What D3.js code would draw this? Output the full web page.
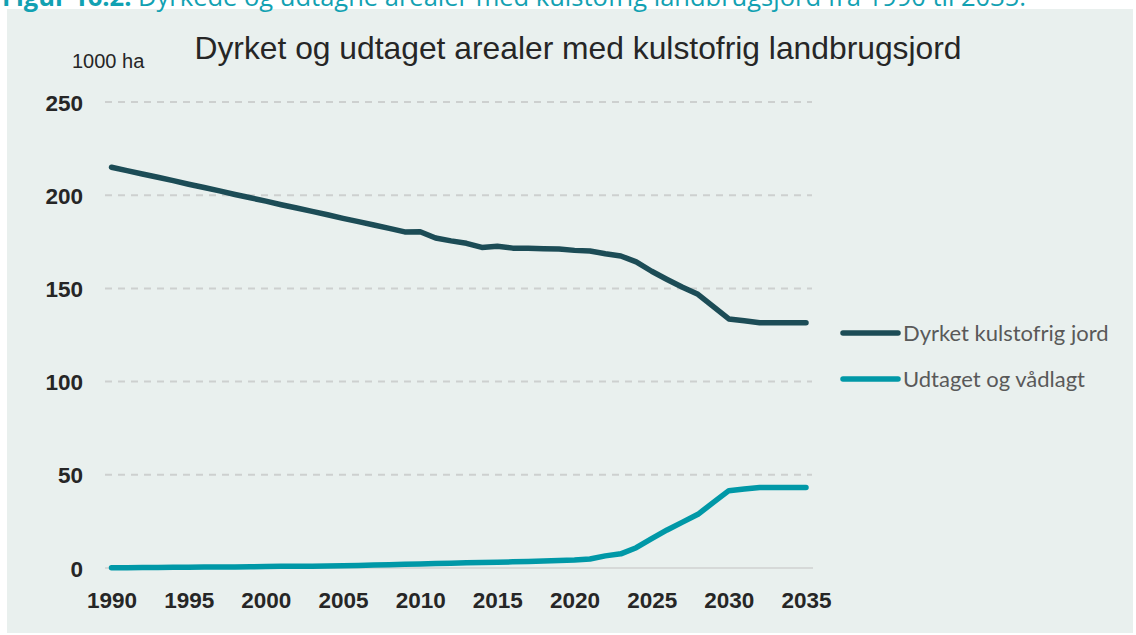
<!DOCTYPE html>
<html>
<head>
<meta charset="utf-8">
<script src="https://cdn.jsdelivr.net/npm/d3@7"></script>
<style>
  body { margin: 0; background: #fff; }
  svg { display: block; }
</style>
</head>
<body>
<svg></svg>
<script>
let svgWidth = 1136;
let svgHeight = 635;

// data (1000 ha)
let years = d3.range(1990, 2036);
let dyrket = [215.0, 213.2, 211.4, 209.6, 207.8, 205.9, 204.1, 202.3, 200.4, 198.6,
              196.8, 194.9, 193.1, 191.3, 189.5, 187.6, 185.8, 184.0, 182.2, 180.3,
              180.4, 177.0, 175.5, 174.2, 172.0, 172.6, 171.6, 171.5, 171.3, 171.1,
              170.4, 170.1, 168.6, 167.4, 164.2, 159.2, 154.8, 150.6, 146.8, 140.2,
              133.6, 132.6, 131.6, 131.6, 131.6, 131.6];
let udtaget = [0.2, 0.2, 0.3, 0.3, 0.4, 0.4, 0.5, 0.5, 0.6, 0.7,
               0.8, 0.9, 1.0, 1.0, 1.1, 1.2, 1.4, 1.6, 1.8, 2.0,
               2.2, 2.4, 2.6, 2.8, 3.0, 3.1, 3.3, 3.5, 3.7, 4.0,
               4.3, 4.8, 6.5, 7.6, 10.9, 15.7, 20.4, 24.6, 28.8, 35.2,
               41.5, 42.4, 43.2, 43.2, 43.2, 43.2];
let xTicks = [1990, 1995, 2000, 2005, 2010, 2015, 2020, 2025, 2030, 2035];
let yTicks = [0, 50, 100, 150, 200, 250];
let seriesNames = ["Dyrket kulstofrig jord", "Udtaget og vådlagt"];
let seriesColors = ["#1c4c56", "#0098a7"];

let series = [dyrket, udtaget].map((vals, i) => ({
  name: seriesNames[i],
  color: seriesColors[i],
  values: years.map((y, j) => ({ year: y, value: vals[j] }))
}));

var svg = d3.select("svg")
  .attr("width", svgWidth)
  .attr("height", svgHeight);

// panel background
svg.append("rect")
  .attr("x", 7)
  .attr("y", 9)
  .attr("width", 1126)
  .attr("height", 624)
  .attr("fill", "#e9f0ee");

// caption, cut off at the top like in the source
svg.append("text")
  .attr("x", 2)
  .attr("y", 5.5)
  .attr("font-family", "Open Sans, sans-serif")
  .attr("font-size", 25.5)
  .attr("fill", "#12a1b2")
  .call(t => {
    t.append("tspan").attr("font-weight", "bold").text("Figur 16.2. ");
    t.append("tspan").text("Dyrkede og udtagne arealer med kulstofrig landbrugsjord fra 1990 til 2035.");
  });

let xScale = d3.scaleLinear()
  .domain([1990, 2035])
  .range([111.5, 806]);
let yScale = d3.scaleLinear()
  .domain([0, 250])
  .range([568, 102]);

// gridlines
svg.append("g")
  .selectAll("line")
  .data(yTicks.filter(d => d > 0))
  .enter()
  .append("line")
    .attr("x1", 105)
    .attr("x2", 812)
    .attr("y1", d => yScale(d))
    .attr("y2", d => yScale(d))
    .attr("stroke", "#cdd0cf")
    .attr("stroke-width", 2)
    .attr("stroke-dasharray", "7,6");

// zero line
svg.append("line")
  .attr("x1", 105)
  .attr("x2", 813)
  .attr("y1", yScale(0))
  .attr("y2", yScale(0))
  .attr("stroke", "#d6d9d8")
  .attr("stroke-width", 2);

// axes
let yAxis = d3.axisLeft(yScale)
  .tickValues(yTicks)
  .tickSize(0)
  .tickPadding(0);
let xAxis = d3.axisBottom(xScale)
  .tickValues(xTicks)
  .tickFormat(d3.format("d"))
  .tickSize(0)
  .tickPadding(0);

svg.append("g")
  .attr("transform", "translate(83, 0)")
  .call(yAxis)
  .call(g => g.select(".domain").remove())
  .selectAll("text")
    .attr("font-family", "Liberation Sans, Arial, sans-serif")
    .attr("font-size", 22.5)
    .attr("font-weight", "bold")
    .attr("fill", "#262626")
    .attr("dy", "0.36em");

svg.append("g")
  .attr("transform", "translate(0, 592)")
  .call(xAxis)
  .call(g => g.select(".domain").remove())
  .selectAll("text")
    .attr("font-family", "Liberation Sans, Arial, sans-serif")
    .attr("font-size", 22.5)
    .attr("font-weight", "bold")
    .attr("fill", "#262626")
    .attr("dy", "0.72em");

// lines
let line = d3.line()
  .x(d => xScale(d.year))
  .y(d => yScale(d.value));

svg.append("g")
  .selectAll("path")
  .data(series)
  .enter()
  .append("path")
    .attr("d", d => line(d.values))
    .attr("fill", "none")
    .attr("stroke", d => d.color)
    .attr("stroke-width", 5.5)
    .attr("stroke-linejoin", "round")
    .attr("stroke-linecap", "round");

// title
svg.append("text")
  .text("Dyrket og udtaget arealer med kulstofrig landbrugsjord")
  .attr("x", 578)
  .attr("y", 59)
  .attr("font-family", "Liberation Sans, Arial, sans-serif")
  .attr("font-size", 31.8)
  .attr("fill", "#262626")
  .attr("text-anchor", "middle");

// unit label
svg.append("text")
  .text("1000 ha")
  .attr("x", 72)
  .attr("y", 68)
  .attr("font-family", "Liberation Sans, Arial, sans-serif")
  .attr("font-size", 20)
  .attr("fill", "#262626");

// legend
let legend = svg.append("g")
  .selectAll("g")
  .data(series)
  .enter()
  .append("g")
    .attr("transform", (d, i) => `translate(843, ${333 + i * 46})`);

legend.append("line")
  .attr("x1", 0)
  .attr("x2", 55)
  .attr("stroke", d => d.color)
  .attr("stroke-width", 5.5)
  .attr("stroke-linecap", "round");

legend.append("text")
  .text(d => d.name)
  .attr("x", 60)
  .attr("dy", "0.35em")
  .attr("font-family", "Lato, sans-serif")
  .attr("font-size", 22)
  .attr("fill", "#595959");
</script>
</body>
</html>
